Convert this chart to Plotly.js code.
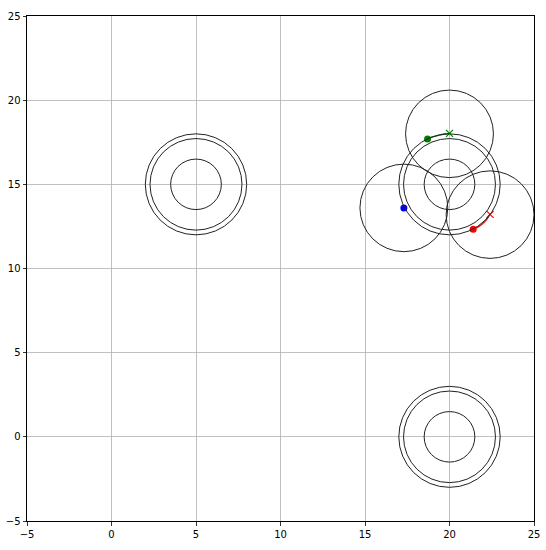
<!DOCTYPE html>
<html>
<head>
<meta charset="utf-8">
<script src="https://cdn.plot.ly/plotly-3.0.1.min.js"></script>
<style>body{margin:0;background:#fff}</style>
</head>
<body>
<div id="chart" style="width:546px;height:550px"></div>
<script>
// circles: centers and radii
var circleX = [5, 5, 5, 20, 20, 20, 20, 20, 20, 20, 17.3, 22.4];
var circleY = [15, 15, 15, 0, 0, 0, 15, 15, 15, 18, 13.6, 13.2];
var circleR = [3, 2.72, 1.5, 3, 2.72, 1.5, 3, 2.72, 1.5, 2.6, 2.6, 2.6];

// paths along the orbit
var greenX = [18.7, 19.05, 19.4, 19.7, 20.0];
var greenY = [17.7, 17.83, 17.93, 17.99, 18.03];
var redX = [21.4, 21.75, 22.05, 22.25, 22.4];
var redY = [12.33, 12.5, 12.75, 12.98, 13.22];

// current positions (dots) and targets (x)
var dotX = [18.7, 21.4, 17.3];
var dotY = [17.7, 12.33, 13.6];
var dotColor = ['green', 'red', 'blue'];
var crossX = [20.0, 22.4];
var crossY = [18.03, 13.22];
var crossColor = ['green', 'red'];

var shapes = [];
for (var i = 0; i < circleX.length; i++) {
  shapes.push({
    type: 'circle', xref: 'x', yref: 'y',
    x0: circleX[i] - circleR[i], x1: circleX[i] + circleR[i],
    y0: circleY[i] - circleR[i], y1: circleY[i] + circleR[i],
    line: {color: '#222', width: 1}
  });
}

var data = [
  {x: greenX, y: greenY, mode: 'lines', line: {color: 'green', width: 1.3, shape: 'spline'}, hoverinfo: 'none'},
  {x: redX, y: redY, mode: 'lines', line: {color: 'red', width: 1.3, shape: 'spline'}, hoverinfo: 'none'},
  {x: crossX, y: crossY, mode: 'markers', marker: {symbol: 'x-thin', size: 7, line: {width: 1.2, color: crossColor}, color: crossColor}},
  {x: dotX, y: dotY, mode: 'markers', marker: {symbol: 'circle', size: 7, color: dotColor}}
];

var axisStyle = {
  range: [-5, 25], dtick: 5, tick0: -5,
  showgrid: true, gridcolor: '#b0b0b0', gridwidth: 0.8,
  zeroline: false, showline: true, linecolor: '#000', linewidth: 1, mirror: true,
  ticks: 'outside', ticklen: 3.5, tickwidth: 0.8, tickcolor: '#000',
  tickfont: {family: 'DejaVu Sans', size: 10, color: '#000'}
};

var layout = {
  width: 546, height: 550,
  margin: {l: 27, r: 12, t: 16, b: 29},
  showlegend: false,
  plot_bgcolor: '#fff', paper_bgcolor: '#fff',
  xaxis: Object.assign({}, axisStyle),
  yaxis: Object.assign({}, axisStyle),
  shapes: shapes
};

Plotly.newPlot('chart', data, layout, {displayModeBar: false, staticPlot: true});
</script>
</body>
</html>
